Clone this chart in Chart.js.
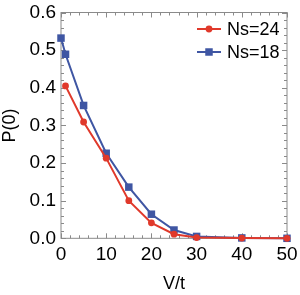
<!DOCTYPE html>
<html>
<head>
<meta charset="utf-8">
<script src="https://cdn.jsdelivr.net/npm/chart.js@4.4.1/dist/chart.umd.min.js"></script>
<style>
  html, body { margin: 0; padding: 0; background: #fff; }
  #wrap { width: 300px; height: 295px; }
</style>
</head>
<body>
<div id="wrap"><canvas id="chart"></canvas></div>
<script>
// V/t values for each series
const vtNs24 = [1, 5, 10, 15, 20, 25, 30, 40, 50];
const pNs24 = [0.405, 0.309, 0.213, 0.100, 0.041, 0.011, 0.002, 0.0005, 0];
const vtNs18 = [0, 1, 5, 10, 15, 20, 25, 30, 40, 50];
const pNs18 = [0.532, 0.489, 0.353, 0.226, 0.136, 0.064, 0.022, 0.005, 0.001, 0];

const red = '#e0392b';
const blue = '#3f56a3';
const frameColor = '#8a8a8a';

function toPoints(xs, ys) {
  return xs.map((x, i) => ({ x: x, y: ys[i] }));
}

// frame with inward ticks on all four sides
const framePlugin = {
  id: 'frame',
  beforeDatasetsDraw(chart) {
    const ctx = chart.ctx;
    const a = chart.chartArea;
    const xs = chart.scales.x, ys = chart.scales.y;
    ctx.save();
    ctx.strokeStyle = frameColor;
    ctx.lineWidth = 1;
    ctx.strokeRect(a.left, a.top, a.right - a.left, a.bottom - a.top);
    ctx.beginPath();
    for (let v = 0; v <= 50; v += 2) {
      const len = v % 10 === 0 ? 5 : 3;
      const px = Math.round(xs.getPixelForValue(v)) + 0.5;
      ctx.moveTo(px, a.bottom); ctx.lineTo(px, a.bottom - len);
      ctx.moveTo(px, a.top); ctx.lineTo(px, a.top + len);
    }
    for (let i = 0; i <= 30; i++) {
      const v = i * 0.02;
      const len = i % 5 === 0 ? 5 : 3;
      const py = Math.round(ys.getPixelForValue(v)) + 0.5;
      ctx.moveTo(a.left, py); ctx.lineTo(a.left + len, py);
      ctx.moveTo(a.right, py); ctx.lineTo(a.right - len, py);
    }
    ctx.stroke();
    ctx.restore();
  }
};

// legend inside the plot, top right
const legendPlugin = {
  id: 'insideLegend',
  afterDraw(chart) {
    const ctx = chart.ctx;
    const rows = [29, 52];
    ctx.save();
    chart.data.datasets.forEach((ds, i) => {
      const y = rows[i];
      ctx.strokeStyle = ds.borderColor;
      ctx.lineWidth = 2;
      ctx.beginPath();
      ctx.moveTo(197, y); ctx.lineTo(221, y);
      ctx.stroke();
      ctx.fillStyle = ds.pointBackgroundColor;
      Chart.helpers.drawPoint(ctx, {
        pointStyle: ds.pointStyle, radius: ds.pointRadius, borderWidth: 0
      }, 209, y);
      ctx.fillStyle = '#000';
      ctx.font = '18px "Liberation Sans", Arial, sans-serif';
      ctx.textBaseline = 'middle';
      ctx.textAlign = 'left';
      ctx.fillText(ds.label, 227, y + 1);
    });
    ctx.restore();
  }
};

const tickFont = { family: '"Liberation Sans", Arial, sans-serif', size: 19 };

new Chart(document.getElementById('chart'), {
  type: 'line',
  data: {
    datasets: [
      {
        label: 'Ns=24',
        data: toPoints(vtNs24, pNs24),
        borderColor: red,
        backgroundColor: red,
        pointBackgroundColor: red,
        pointBorderWidth: 0,
        pointStyle: 'circle',
        pointRadius: 3.4,
        borderWidth: 2,
        clip: false
      },
      {
        label: 'Ns=18',
        data: toPoints(vtNs18, pNs18),
        borderColor: blue,
        backgroundColor: blue,
        pointBackgroundColor: blue,
        pointBorderWidth: 0,
        pointStyle: 'rect',
        pointRadius: 5.3,
        borderWidth: 2,
        clip: false
      }
    ]
  },
  options: {
    responsive: true,
    maintainAspectRatio: false,
    animation: false,
    layout: { padding: { top: 12.5, right: 13, left: 0, bottom: 0 } },
    plugins: {
      legend: { display: false },
      tooltip: { enabled: false }
    },
    scales: {
      x: {
        type: 'linear',
        min: 0,
        max: 50,
        grid: { display: false, drawTicks: false },
        border: { display: false },
        ticks: { stepSize: 10, color: '#000', font: tickFont, padding: 5, maxRotation: 0 },
        title: {
          display: true,
          text: 'V/t',
          color: '#000',
          font: { family: tickFont.family, size: 18, lineHeight: 1 },
          padding: { top: 0, bottom: 2 }
        },
        afterFit(scale) {
          scale.height = 56.7;
          scale.paddingLeft = 0;
          scale.paddingRight = 0;
        }
      },
      y: {
        min: 0,
        max: 0.6,
        grid: { display: false, drawTicks: false },
        border: { display: false },
        ticks: {
          stepSize: 0.1,
          color: '#000',
          font: tickFont,
          padding: 5,
          callback: v => v.toFixed(1)
        },
        title: {
          display: true,
          text: 'P(0)',
          color: '#000',
          font: { family: tickFont.family, size: 18, lineHeight: 1 },
          padding: { top: 1, bottom: 0 }
        },
        afterFit(scale) {
          scale.width = 61;
          scale.paddingTop = 0;
          scale.paddingBottom = 0;
        }
      }
    }
  },
  plugins: [framePlugin, legendPlugin]
});
</script>
</body>
</html>
